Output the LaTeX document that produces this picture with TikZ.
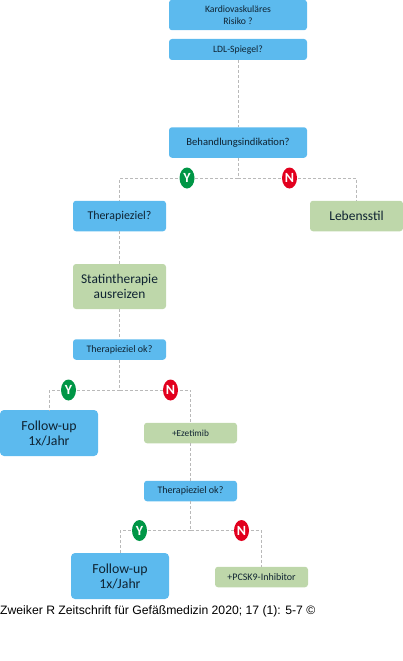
\documentclass[tikz,border=0pt]{standalone}
\usepackage{fontspec}
\setmainfont{Carlito}
\newfontfamily\footfont{Liberation Sans}
\usetikzlibrary{shapes.geometric}
\definecolor{chartBlue}{RGB}{92,186,238}
\definecolor{chartGreen}{RGB}{190,215,170}
\definecolor{chartText}{RGB}{15,35,50}
\definecolor{chartLine}{RGB}{185,185,185}
\definecolor{chartYes}{RGB}{0,150,70}
\definecolor{chartNo}{RGB}{226,0,30}
\tikzset{
  blue/.style={fill=chartBlue, rounded corners=3pt, inner sep=0pt, align=center, text=chartText},
  green/.style={fill=chartGreen, rounded corners=3pt, inner sep=0pt, align=center, text=chartText},
  small/.style={minimum width=93pt, minimum height=20.5pt, font=\fontsize{10}{12}\selectfont},
  mid/.style={minimum width=138pt, minimum height=30.5pt, font=\fontsize{9.7}{12}\selectfont},
  box/.style={minimum width=93pt, minimum height=30.5pt, font=\fontsize{11.9}{14}\selectfont},
  large/.style={minimum width=98pt, minimum height=46pt, rounded corners=4pt, font=\fontsize{13.8}{15}\selectfont},
  answer/.style={ellipse, inner sep=0pt, minimum width=15pt, minimum height=21pt, text=white, font=\fontsize{14}{14}\selectfont\bfseries},
  link/.style={draw=chartLine, densely dashed, line width=0.9pt}
}
\begin{document}
\begin{tikzpicture}[x=1pt,y=-1pt]
    \useasboundingbox (0,0) rectangle (403,661);
    \node[blue,mid] (risk) at (238,15) {Kardiovaskuläres\\Risiko ?};
    \node[blue,mid,minimum height=21pt] (ldl) at (238,49.5) {LDL-Spiegel?};
    \node[blue,mid,font=\fontsize{10.6}{12}\selectfont] (indik) at (238,142.5) {Behandlungsindikation?};
    \node[blue,box] (ziel) at (119.5,216) {Therapieziel?};
    \node[green,box,font=\fontsize{13.5}{15}\selectfont] (stil) at (356.5,216) {Lebensstil};
    \node[green,box,minimum height=45pt,font=\fontsize{13.4}{15}\selectfont] (statin) at (119.5,286.5) {Statintherapie\\ausreizen};
    \node[blue,small] (okA) at (119.5,349.5) {Therapieziel ok?};
    \node[blue,large] (followA) at (49,433) {Follow-up\\1x/Jahr};
    \node[green,small,font=\fontsize{9.3}{11}\selectfont] (ezet) at (190.5,433) {+Ezetimib};
    \node[blue,small] (okB) at (190.5,491) {Therapieziel ok?};
    \node[blue,large] (followB) at (120,576) {Follow-up\\1x/Jahr};
    \node[green,small] (pcsk) at (261.5,577) {+PCSK9-Inhibitor};
    % junctions
    \coordinate (forkA) at (238,178);
    \coordinate (forkB) at (119.5,390);
    \coordinate (forkC) at (190.5,530.5);
    \draw[link] (ldl.south) -- (indik.north);
    \draw[link] (indik.south) -- (forkA);
    \draw[link] (forkA) -| (ziel.north);
    \draw[link] (forkA) -| (stil.north);
    \draw[link] (ziel.south) -- (statin.north);
    \draw[link] (statin.south) -- (okA.north);
    \draw[link] (okA.south) -- (forkB);
    \draw[link] (forkB) -| (followA.north);
    \draw[link] (forkB) -| (ezet.north);
    \draw[link] (ezet.south) -- (okB.north);
    \draw[link] (okB.south) -- (forkC);
    \draw[link] (forkC) -| (followB.north);
    \draw[link] (forkC) -| (pcsk.north);
    \node[answer,fill=chartYes] (yesA) at (187,178) {Y};
    \node[answer,fill=chartNo] (noA) at (289.5,178) {N};
    \node[answer,fill=chartYes] (yesB) at (68.5,390) {Y};
    \node[answer,fill=chartNo] (noB) at (170.5,390) {N};
    \node[answer,fill=chartYes] (yesC) at (139.5,530.5) {Y};
    \node[answer,fill=chartNo] (noC) at (241.5,530.5) {N};
    \node[anchor=west,inner sep=0pt,font=\footfont\fontsize{12.2}{14}\selectfont] (source) at (0,611.5) {Zweiker R Zeitschrift für Gefäßmedizin 2020; 17 (1): 5-7 ©};
\end{tikzpicture}
\end{document}
